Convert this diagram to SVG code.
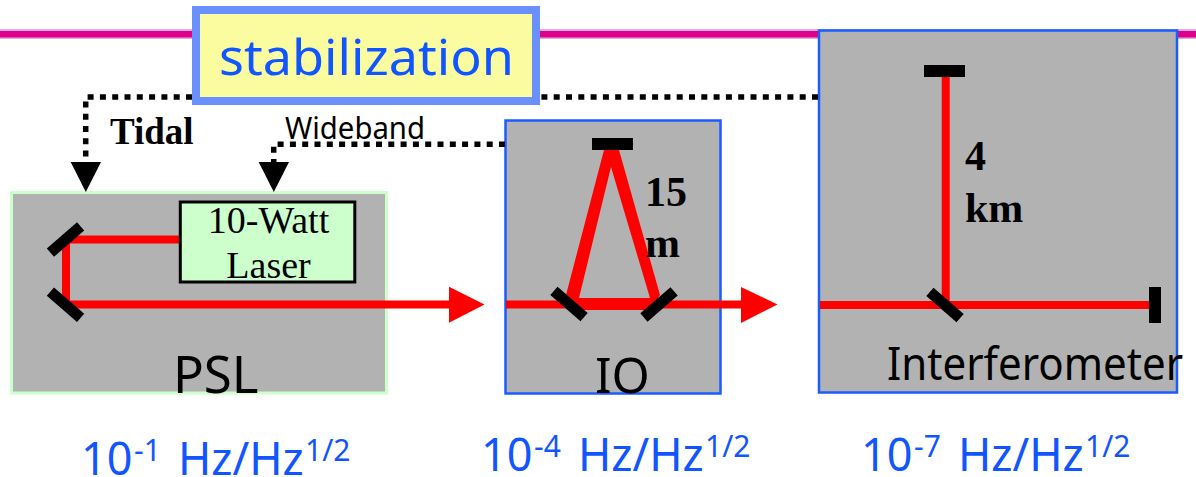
<svg xmlns="http://www.w3.org/2000/svg" width="1196" height="477" viewBox="0 0 1196 477">
<style>
.sans{font-family:"Noto Sans","Liberation Sans",sans-serif}
.serif{font-family:"Liberation Serif",serif}
.blue{fill:#1155ff;font-size:45px}
.sup{font-size:30px}
.lbl{fill:#000}
.bold{font-weight:bold;font-size:42px;fill:#000}
.box{fill:#b2b2b2;stroke:#1a5cff;stroke-width:2.5}
.beam{stroke:#ff0000;fill:none;stroke-width:8}
.mir{fill:#000}
.dot{stroke:#000;stroke-width:5.5;fill:none;stroke-dasharray:6 6.300}
.head{fill:#000}
.redhead{fill:#ff0000}
</style>
<g id="rail"><rect x="0" y="29" width="1196" height="10" fill="#dcaaee"/><rect x="0" y="31" width="1196" height="6.500" fill="#dd0088"/></g>
<g id="psl">
<rect x="11.500" y="192.500" width="375" height="200.500" fill="#b2b2b2" stroke="#ccffcc" stroke-width="3"/>
<text class="sans lbl" x="173" y="393" font-size="51">PSL</text>
</g>
<g id="io">
<rect class="box" x="505.500" y="120.500" width="215" height="273"/>
<text class="sans lbl" x="595" y="393" font-size="49">IO</text>
</g>
<g id="interferometer">
<rect class="box" x="819" y="30.500" width="358" height="362"/>
<text class="sans lbl" x="887" y="380" font-size="46" textLength="296" lengthAdjust="spacingAndGlyphs">Interferometer</text>
</g>
<g id="connectors">
<path class="dot" d="M192 97H85.700V165"/>
<path class="head" d="M70.700 162H101L85.800 192Z"/>
<path class="dot" d="M818 97H540"/>
<path class="dot" d="M505 144.300H273.700V165"/>
<path class="head" d="M258.700 162H289L273.800 192Z"/>
<path class="beam" d="M180 239.500H66V304.500H450"/>
<path class="redhead" d="M449 286.700L484.500 304.500L449 322.700Z"/>
<path class="beam" d="M506 304.500H745"/>
<path class="redhead" d="M741 287L777.500 304.500L741 323Z"/>
<path fill="#ff0000" fill-rule="evenodd" d="M604 150H619L660 295L650 310H575L566 295ZM611 167L579 298H650Z"/>
<path class="beam" d="M820 305H1150M945.700 76V305"/>
</g>
<g id="stabilization">
<rect x="196" y="10" width="340" height="91" fill="#fbfba0" stroke="#6a8fff" stroke-width="8"/>
<text class="sans" x="219" y="75" font-size="50" fill="#1155ff" textLength="295" lengthAdjust="spacingAndGlyphs">stabilization</text>
</g>
<g id="laser">
<rect x="180.300" y="202" width="174.500" height="80" fill="#ccffcc" stroke="#000" stroke-width="3"/>
<text class="serif" x="268.500" y="232.500" font-size="38" text-anchor="middle" fill="#000">10-Watt</text>
<text class="serif" x="268.500" y="278" font-size="38" text-anchor="middle" fill="#000">Laser</text>
</g>
<g id="mirrors">
<rect class="mir" x="45.500" y="234" width="40" height="11" transform="rotate(-41 65.500 239.500)"/>
<rect class="mir" x="45.500" y="299.300" width="40" height="11" transform="rotate(41 65.500 304.800)"/>
<rect class="mir" x="592" y="138" width="41" height="12"/>
<rect class="mir" x="549" y="298.500" width="40" height="11" transform="rotate(41 569 304)"/>
<rect class="mir" x="639" y="298.900" width="40" height="11" transform="rotate(-41 659 304.400)"/>
<rect class="mir" x="924" y="65" width="41" height="12"/>
<rect class="mir" x="925" y="299.500" width="40" height="11" transform="rotate(41 945 305)"/>
<rect class="mir" x="1149" y="287" width="12" height="36"/>
</g>
<g id="labels">
<text class="serif bold" x="110" y="144" style="font-size:37px">Tidal</text>
<text class="sans" x="285" y="139" font-size="30" fill="#000" textLength="140" lengthAdjust="spacingAndGlyphs">Wideband</text>
<text class="serif bold" x="645" y="206">15</text>
<text class="serif bold" x="645" y="257">m</text>
<text class="serif bold" x="965" y="170">4</text>
<text class="serif bold" x="965" y="222">km</text>
<g class="sans blue">
<text x="81" y="475">10<tspan class="sup" x="134" y="461">-1</tspan><tspan x="178" y="475">Hz/Hz</tspan><tspan class="sup" x="305" y="461">1/2</tspan></text>
<text x="481" y="471">10<tspan class="sup" x="534" y="457">-4</tspan><tspan x="578" y="471">Hz/Hz</tspan><tspan class="sup" x="705" y="457">1/2</tspan></text>
<text x="861" y="471">10<tspan class="sup" x="914" y="457">-7</tspan><tspan x="958" y="471">Hz/Hz</tspan><tspan class="sup" x="1085" y="457">1/2</tspan></text>
</g>
</g>
</svg>
